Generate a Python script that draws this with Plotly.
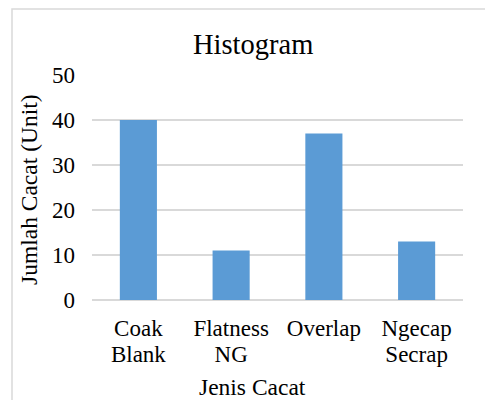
import plotly.graph_objects as go

categories = ["Coak<br>Blank", "Flatness<br>NG", "Overlap", "Ngecap<br>Secrap"]
values = [40, 11, 37, 13]
y_ticks = [0, 10, 20, 30, 40, 50]
title_text = "Histogram"
x_title = "Jenis Cacat"
y_title = "Jumlah Cacat (Unit)"

W, H = 485, 400
L, R, T, B = 92, 22, 75, 100
pw, ph = W - L - R, H - T - B

def px2paper_x(px):
    return (px - L) / pw

def px2paper_y(py):
    return (H - B - py) / ph

FONT = "Liberation Serif, Times New Roman, serif"

# Tick labels drawn at 23px while line spacing is based on a smaller base size
tick_text = ["<span style='font-size:23px'>" + "</span><br><span style='font-size:23px'>".join(c.split("<br>")) + "</span>"
             for c in categories]

fig = go.Figure(go.Bar(x=categories, y=values, marker=dict(color="#5B9BD5", line=dict(width=0))))

fig.update_layout(
    width=W, height=H,
    margin=dict(l=L, r=R, t=T, b=B, autoexpand=False),
    paper_bgcolor="white", plot_bgcolor="white",
    bargap=0.6,
    showlegend=False,
    font=dict(family=FONT, color="black", size=23),
    xaxis=dict(showline=False, showgrid=False, ticks="", tickfont=dict(size=20.5, family=FONT),
               tickmode="array", tickvals=categories, ticktext=tick_text,
               ticklabelstandoff=14, fixedrange=True),
    yaxis=dict(range=[0, 50], tickvals=y_ticks, showgrid=True, gridcolor="#D9D9D9", gridwidth=1.5,
               zeroline=True, zerolinecolor="#D9D9D9", zerolinewidth=1.5, showline=False,
               ticks="", tickfont=dict(size=23, family=FONT), ticklabelstandoff=16, fixedrange=True),
    annotations=[
        dict(text=title_text, xref="paper", yref="paper", x=px2paper_x(252.7), y=px2paper_y(44),
             xanchor="center", yanchor="middle", showarrow=False, font=dict(size=28.5, family=FONT)),
        dict(text=x_title, xref="paper", yref="paper", x=px2paper_x(252.7), y=px2paper_y(387),
             xanchor="center", yanchor="middle", showarrow=False, font=dict(size=23.5, family=FONT)),
        dict(text=y_title, xref="paper", yref="paper", x=px2paper_x(29), y=px2paper_y(190),
             xanchor="center", yanchor="middle", showarrow=False, textangle=-90,
             font=dict(size=23.5, family=FONT)),
    ],
    shapes=[
        dict(type="rect", xref="paper", yref="paper",
             x0=px2paper_x(12), x1=px2paper_x(495), y0=px2paper_y(410), y1=px2paper_y(9),
             line=dict(color="#D9D9D9", width=1.5), fillcolor="rgba(0,0,0,0)", layer="below"),
    ],
)

fig.write_html("out.html", config={"displayModeBar": False},
               post_script="document.body.style.margin='0';document.body.style.overflow='hidden';")
